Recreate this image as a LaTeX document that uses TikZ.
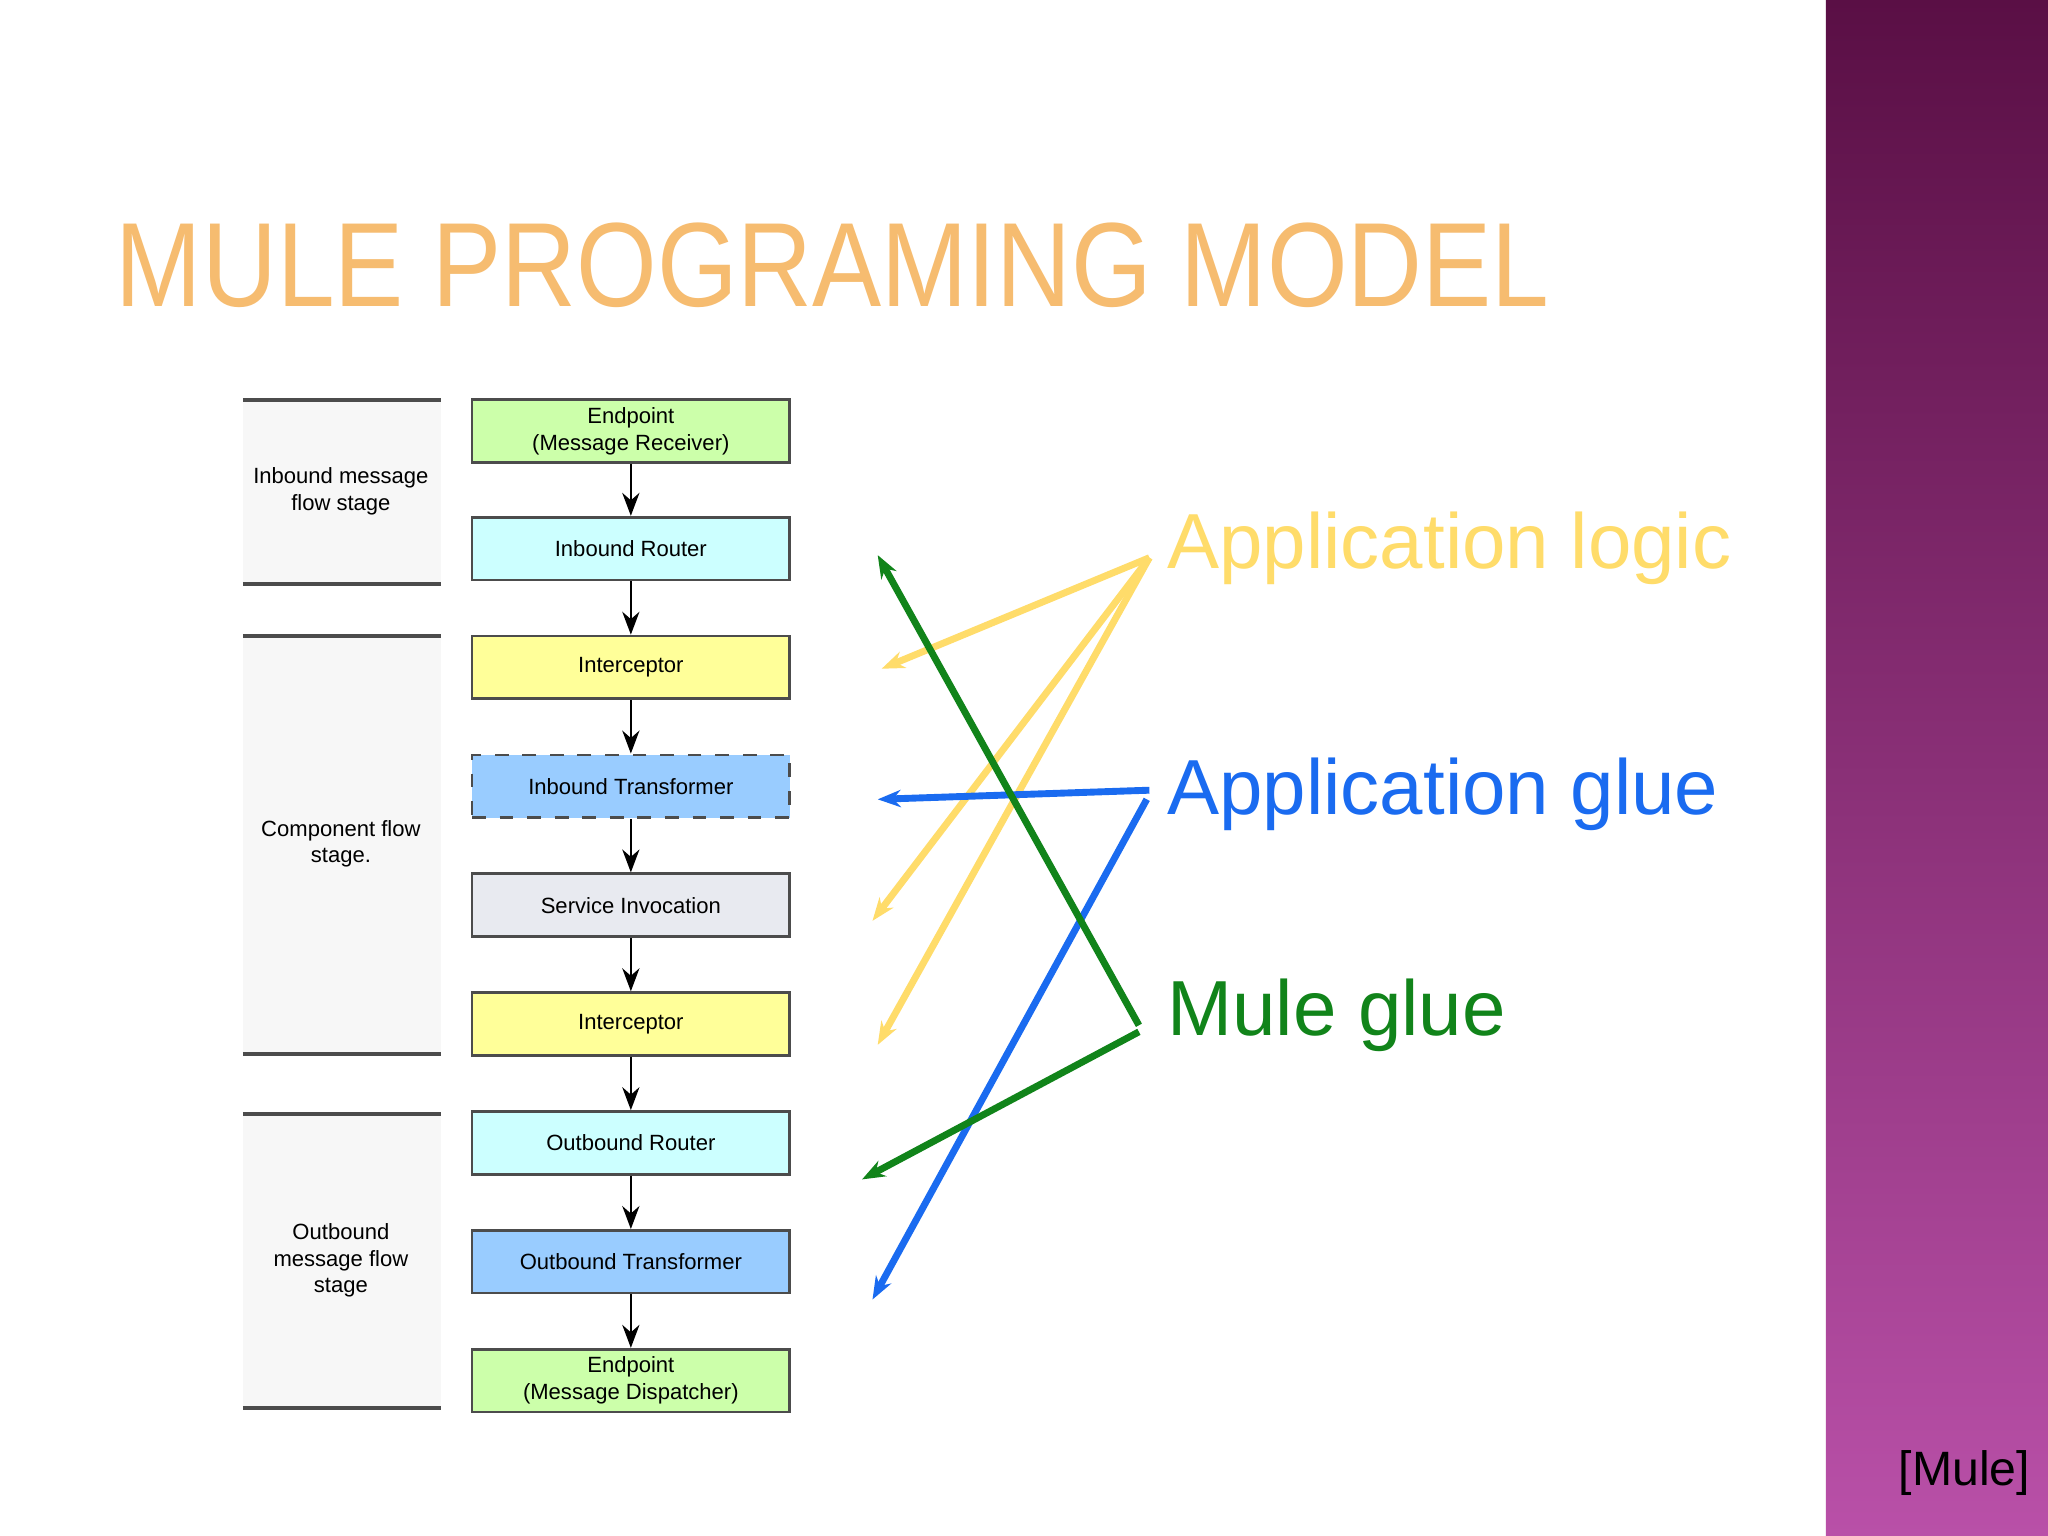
\documentclass[tikz,border=0pt]{standalone}
\usepackage{fontspec}
\setmainfont{Liberation Sans}
\usepackage{tikz}
\usetikzlibrary{arrows.meta}
\definecolor{lgreen}{HTML}{CCFFAA}
\definecolor{lcyan}{HTML}{CCFFFF}
\definecolor{lyellow}{HTML}{FFFF99}
\definecolor{lblue}{HTML}{99CCFF}
\definecolor{lgray}{HTML}{E8EAF0}
\definecolor{applogic}{HTML}{FFDC6A}
\definecolor{appglue}{HTML}{1A6BF0}
\definecolor{muleglue}{HTML}{11841A}
\definecolor{titleor}{HTML}{F6BC70}
\definecolor{bartop}{HTML}{5A0F45}
\definecolor{barbot}{HTML}{B950A8}
\tikzset{
  stage/.style={draw=black!70,line width=0.6pt,minimum width=2.43cm,minimum height=0.48cm,
    align=center,font=\fontsize{4.8}{5.8}\selectfont,inner sep=1pt},
  stagelbl/.style={align=center,font=\fontsize{4.8}{5.8}\selectfont},
  note/.style={font=\fontsize{17}{20}\selectfont,anchor=west,inner sep=0pt},
}
\begin{document}
\begin{tikzpicture}[x=0.01cm,y=-0.01cm]
\useasboundingbox (0,0) rectangle (1568,1176);
\fill[white] (0,0) rectangle (1398,1176);
\shade[top color=bartop,bottom color=barbot] (1398,0) rectangle (1568,1176);

% title
\node[text=titleor,anchor=west,inner sep=0pt] (title) at (88,203)
  {\resizebox{10.97cm}{0.64cm}{MULE PROGRAMING MODEL}};

\begin{scope}[>={Stealth[length=5pt]}]
% stage bands
\fill[black!3] (186,306) rectangle (338,447);
\fill[black!3] (186,487) rectangle (338,807);
\fill[black!3] (186,853) rectangle (338,1078);
\foreach \y in {306,447,487,807,853,1078}
  \draw[black!70,line width=0.8pt] (186,\y) -- (338,\y);
\node[stagelbl] (inlbl) at (261,376) {Inbound message\\flow stage};
\node[stagelbl] (complbl) at (261,646) {Component flow\\stage.};
\node[stagelbl] (outlbl) at (261,965) {Outbound\\message flow\\stage};

% boxes
\node[stage,fill=lgreen] (ep1) at (483,330) {Endpoint\\(Message Receiver)};
\node[stage,fill=lcyan] (ir) at (483,420) {Inbound Router};
\node[stage,fill=lyellow] (ic1) at (483,511) {Interceptor};
\node[stage,fill=lblue,dashed] (it) at (483,602) {Inbound Transformer};
\node[stage,fill=lgray] (si) at (483,693) {Service Invocation};
\node[stage,fill=lyellow] (ic2) at (483,784) {Interceptor};
\node[stage,fill=lcyan] (or) at (483,875) {Outbound Router};
\node[stage,fill=lblue] (ot) at (483,966) {Outbound Transformer};
\node[stage,fill=lgreen] (ep2) at (483,1057) {Endpoint\\(Message Dispatcher)};
\foreach \a/\b in {ep1/ir,ir/ic1,ic1/it,it/si,si/ic2,ic2/or,or/ot,ot/ep2}
  \draw[->] (\a) -- (\b);

% legend
\node[note,text=applogic] (logic) at (893,420) {Application logic};
\node[note,text=appglue] (glue) at (893,608) {Application glue};
\node[note,text=muleglue] (mule) at (893,777) {Mule glue};
\node[font=\fontsize{10.5}{12}\selectfont] (cite) at (1504,1128) {[Mule]};

\coordinate (lg) at (880,427);
\coordinate (bg1) at (880,605);
\coordinate (bg2) at (878,612);
\coordinate (mg1) at (872,785);
\coordinate (mg2) at (872,790);
\coordinate (tic1) at (675,512);
\coordinate (tsi) at (668,705);
\coordinate (tic2) at (672,800);
\coordinate (tit) at (672,612);
\coordinate (tot) at (668,995);
\coordinate (tir) at (672,425);
\coordinate (tor) at (660,903);
\draw[->,applogic,line width=1.5pt] (lg) -- (tic1);
\draw[->,applogic,line width=1.5pt] (lg) -- (tsi);
\draw[->,applogic,line width=1.5pt] (lg) -- (tic2);
\draw[->,appglue,line width=1.5pt] (bg1) -- (tit);
\draw[->,appglue,line width=1.5pt] (bg2) -- (tot);
\draw[->,muleglue,line width=1.5pt] (mg1) -- (tir);
\draw[->,muleglue,line width=1.5pt] (mg2) -- (tor);
\end{scope}
\end{tikzpicture}
\end{document}
